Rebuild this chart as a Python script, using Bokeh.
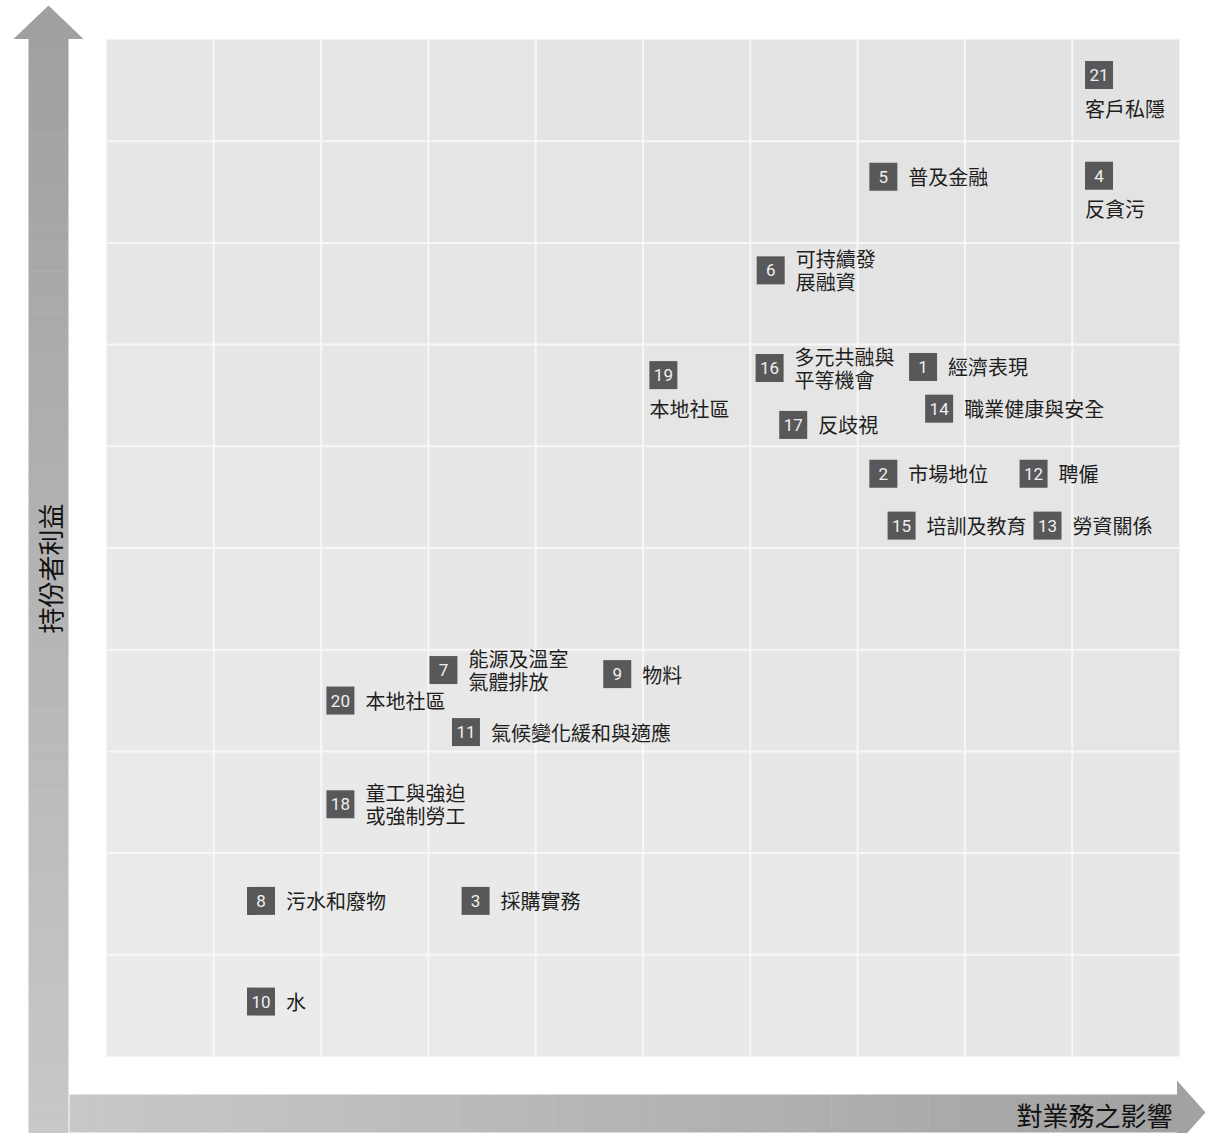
import math
from bokeh.plotting import figure
from bokeh.models import Range1d, ColumnDataSource
from bokeh.core.properties import value
from bokeh.embed import file_html
from bokeh.resources import INLINE

# ---------------- data ----------------
ids = [21, 5, 4, 6, 19, 16, 1, 14, 17, 2, 12, 15, 13, 7, 9, 20, 11, 18, 8, 3, 10]
names = ["客戶私隱", "普及金融", "反貪污", "可持續發\n展融資", "本地社區",
         "多元共融與\n平等機會", "經濟表現", "職業健康與安全", "反歧視", "市場地位",
         "聘僱", "培訓及教育", "勞資關係", "能源及溫室\n氣體排放", "物料",
         "本地社區", "氣候變化緩和與適應", "童工與強迫\n或強制勞工", "污水和廢物",
         "採購實務", "水"]
impact = [9.25, 7.24, 9.25, 6.19, 5.19, 6.18, 7.61, 7.76, 6.40, 7.24, 8.64,
          7.41, 8.77, 3.14, 4.76, 2.18, 3.35, 2.18, 1.44, 3.44, 1.44]
stakeholder = [9.65, 8.65, 8.66, 7.73, 6.70, 6.77, 6.78, 6.37, 6.21, 5.73, 5.73,
               5.22, 5.22, 3.80, 3.76, 3.50, 3.19, 2.48, 1.53, 1.53, 0.54]
placement = ["below", "right", "below", "right", "below", "right", "right", "right",
             "right", "right", "right", "right", "right", "right", "right", "right",
             "right", "right", "right", "right", "right"]
x_title = "對業務之影響"
y_title = "持份者利益"
n_cells = 10

# ---------------- layout ----------------
W, H = 1206, 1133
L, R, T, B = 106, 1179, 39, 1056          # matrix frame in canvas px
ux = (R - L) / n_cells
uy = (B - T) / n_cells

def X(px):   # canvas px -> data x
    return (px - L) / ux

def Y(py):   # canvas px -> data y
    return (B - py) / uy

p = figure(width=W, height=H,
           x_range=Range1d(-L / ux, n_cells + (W - R) / ux),
           y_range=Range1d(-(H - B) / uy, n_cells + T / uy),
           output_backend="svg", toolbar_location=None,
           x_axis_type=None, y_axis_type=None, min_border=0)
p.grid.visible = False
p.outline_line_color = None
p.background_fill_color = "white"
p.border_fill_color = "white"

# ---------------- matrix cells ----------------
cl, cr, cb, ct, cc = [], [], [], [], []
for r in range(n_cells):
    for c in range(n_cells):
        cl.append(c); cr.append(c + 1); cb.append(r); ct.append(r + 1)
        v = int(round(0xEB - 0.55 * r - 0.45 * c))
        cc.append("#%02x%02x%02x" % (v, v, v))
p.quad(left=cl, right=cr, bottom=cb, top=ct, fill_color=cc, line_color=None)

gx = [[i, i] for i in range(1, n_cells)]
gy = [[0, n_cells] for i in range(1, n_cells)]
p.multi_line(gx + [[0, n_cells] for i in range(1, n_cells)],
             gy + [[i, i] for i in range(1, n_cells)],
             line_color="#f7f7f7", line_width=2)

# ---------------- arrows ----------------
def grey(v):
    v = int(round(v))
    return "#%02x%02x%02x" % (v, v, v)

N = 80
# vertical shaft: x 28..68, y 38..1133 ; dark at top
y0, y1 = 38, 1133
vl, vr, vb, vt, vc = [], [], [], [], []
for i in range(N):
    a = y0 + (y1 - y0) * i / N
    b = y0 + (y1 - y0) * (i + 1) / N
    vl.append(X(28)); vr.append(X(68)); vt.append(Y(a)); vb.append(Y(b + 0.5))
    vc.append(grey(0xA0 + (0xC8 - 0xA0) * (i + 0.5) / N))
p.quad(left=vl, right=vr, bottom=vb, top=vt, fill_color=vc, line_color=None)
p.patch([X(13), X(48), X(83)], [Y(38.5), Y(5), Y(38.5)], fill_color="#a0a0a0", line_color=None)

# horizontal shaft: x 69..1177, y 1094..1132 ; dark at right
x0, x1 = 69, 1177
hl, hr, hb, ht, hc = [], [], [], [], []
for i in range(N):
    a = x0 + (x1 - x0) * i / N
    b = x0 + (x1 - x0) * (i + 1) / N
    hl.append(X(a)); hr.append(X(b + 0.5)); ht.append(Y(1094)); hb.append(Y(1132))
    hc.append(grey(0xC8 - (0xC8 - 0xA2) * (i + 0.5) / N))
p.quad(left=hl, right=hr, bottom=hb, top=ht, fill_color=hc, line_color=None)
p.patch([X(1176.5), X(1205), X(1176.5)], [Y(1080), Y(1112), Y(1144)], fill_color="#a2a2a2", line_color=None)

# axis titles
p.text(x=[X(49)], y=[Y(568)], text=[y_title], angle=math.pi / 2,
       text_font=value("Noto Sans CJK TC"), text_font_size="26px",
       text_color="#111111", text_align="center", text_baseline="middle")
p.text(x=[X(1172)], y=[Y(1114)], text=[x_title],
       text_font=value("Noto Sans CJK TC"), text_font_size="26px",
       text_color="#111111", text_align="right", text_baseline="middle")

# ---------------- points ----------------
src = ColumnDataSource(dict(x=impact, y=stakeholder, id=[str(i) for i in ids]))
p.scatter(x="x", y="y", source=src, marker="square", size=28,
          fill_color="#58585a", line_color=None)
p.text(x="x", y="y", text="id", source=src,
       text_font=value("Roboto"), text_font_size="17px", text_color="#f0f0f0",
       text_align="center", text_baseline="middle")

rx, ry, rt, bx, by, bt = [], [], [], [], [], []
for xi, yi, nm, pl in zip(impact, stakeholder, names, placement):
    if pl == "right":
        rx.append(xi + 25 / ux); ry.append(yi); rt.append(nm)
    else:
        bx.append(xi - 14 / ux); by.append(yi - 33 / uy); bt.append(nm)

for xs, ys, ts in ((rx, ry, rt), (bx, by, bt)):
    p.text(x=xs, y=ys, text=ts, text_font=value("Noto Sans CJK TC"),
           text_font_size="20px", text_color="#1e1e1e", text_align="left",
           text_baseline="middle", text_line_height=0.8)

open("out.html", "w").write(file_html(p, INLINE))
